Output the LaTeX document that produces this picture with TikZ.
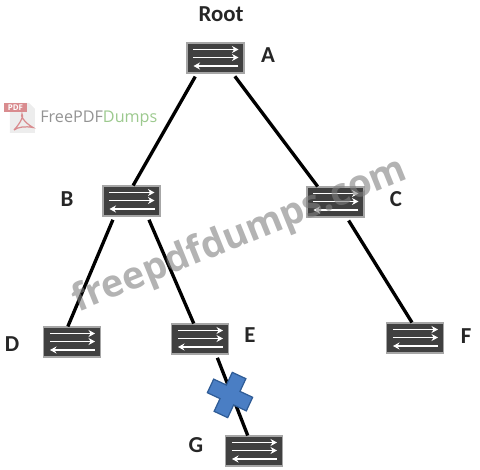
\documentclass[tikz,border=0pt]{standalone}
\usepackage{fontspec}
\usepackage{xcolor}
\setmainfont{Carlito}
\newfontfamily\markfont{Open Sans}
\usetikzlibrary{arrows.meta}
\definecolor{swbody}{HTML}{404040}
\definecolor{swedge}{HTML}{A6A6A6}
\definecolor{crossblue}{HTML}{4A7EC4}
\definecolor{crossedge}{HTML}{2F5C96}
\definecolor{logogreen}{HTML}{9CC98E}
\definecolor{logored}{HTML}{D98C8F}

\begin{document}
\begin{tikzpicture}[
    switchbox/.style={rectangle, draw=swedge, fill=swbody, line width=0.6pt,
                minimum width=1.14cm, minimum height=0.6cm, inner sep=0pt,
                path picture={
                  \draw[swarrow] (-0.44,0.17) -- (0.46,0.17);
                  \draw[swarrow] (-0.44,0.01) -- (0.46,0.01);
                  \draw[swarrow] (0.46,-0.16) -- (-0.44,-0.16);}},
    swarrow/.style={-{Stealth[length=1.3mm,width=1.4mm]}, white, line width=1.1pt},
    link/.style={line width=1.9pt, black, shorten <=2pt},
    letter/.style={font=\fontsize{13}{15}\selectfont\bfseries, text=black!85},
    crossmark/.style={fill=crossblue, draw=crossedge, line width=0.7pt}]
  \useasboundingbox (0,0) rectangle (9.6,9.4);
  \node[switchbox] (swa) at (4.31,8.24) {};
  \node[switchbox] (swb) at (2.63,5.38) {};
  \node[switchbox] (swc) at (6.71,5.36) {};
  \node[switchbox] (swd) at (1.44,2.56) {};
  \node[switchbox] (swe) at (4.0,2.62) {};
  \node[switchbox] (swf) at (8.3,2.64) {};
  \node[switchbox] (swg) at (5.08,0.38) {};
  \node[letter] (root) at (4.42,9.12) {Root};
  \node[letter] (la) at (5.36,8.3) {A};
  \node[letter] (lb) at (1.34,5.42) {B};
  \node[letter] (lc) at (7.92,5.42) {C};
  \node[letter] (ld) at (0.24,2.52) {D};
  \node[letter] (le) at (5.0,2.7) {E};
  \node[letter] (lf) at (9.32,2.68) {F};
  \node[letter] (lg) at (3.92,0.5) {G};
  \draw[link] (swa.-140) -- (swb.84);
  \draw[link] (swa.-42) -- (swc.139);
  \draw[link] (swb.-138) -- (swd.105);
  \draw[link] (swb.-44) -- (swe.112);
  \draw[link] (swc.-54) -- (swf.101);
  \draw[link] (swe.-44) -- (swg.112);
  % failed link
  \coordinate (cross) at (4.6,1.5);
  \draw[crossmark, shift={(cross)}, rotate=-25]
    (-0.15,0.43) -- (0.15,0.43) -- (0.15,0.15) -- (0.43,0.15) -- (0.43,-0.15)
    -- (0.15,-0.15) -- (0.15,-0.43) -- (-0.15,-0.43) -- (-0.15,-0.15)
    -- (-0.43,-0.15) -- (-0.43,0.15) -- (-0.15,0.15) -- cycle;
  % logo
  \fill[black!7] (0.2,6.74) -- (0.2,7.34) -- (0.58,7.34) -- (0.7,7.22) -- (0.7,6.74) -- cycle;
  \fill[logored] (0.08,7.16) rectangle (0.54,7.34);
  \node[text=white, font=\markfont\bfseries\fontsize{4.5}{5}\selectfont, inner sep=0pt] (pdftag) at (0.31,7.25) {PDF};
  \draw[logored, line width=0.7pt] (0.28,6.8) .. controls (0.42,6.95) and (0.48,7.1) .. (0.44,7.12)
    .. controls (0.4,7.1) and (0.48,6.95) .. (0.66,6.85) .. controls (0.5,6.88) and (0.36,6.86) .. (0.28,6.8);
  \node[anchor=west, inner sep=0pt, font=\markfont\fontsize{9.2}{11}\selectfont] (logo) at (0.8,7.03)
    {\textcolor{gray!85}{FreePDF}\textcolor{logogreen}{Dumps}};
  % watermark
  \node[rotate=22, text=gray, text opacity=0.6, inner sep=0pt,
        font=\markfont\bfseries\fontsize{21.5}{24}\selectfont] (wmark) at (4.8,4.68) {freepdfdumps.com};
\end{tikzpicture}
\end{document}
